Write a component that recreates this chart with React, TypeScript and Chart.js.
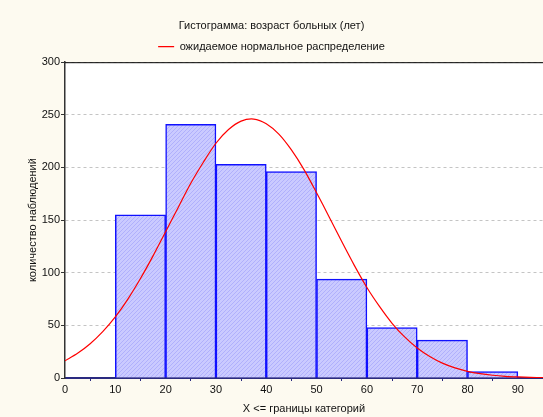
import React, { useEffect, useRef } from "react";
import { Chart, registerables } from "chart.js";

Chart.register(...registerables);

const titleText = "Гистограмма: возраст больных (лет)";
const legendText = "ожидаемое нормальное распределение";
const xAxisTitle = "X <= границы категорий";
const yAxisTitle = "количество наблюдений";

// histogram bins (lower bounds of categories) and counts
const binStarts = [10, 20, 30, 40, 50, 60, 70, 80];
const binWidth = 10;
const binCounts = [155, 241, 203, 196, 94, 48, 36, 6];

// expected normal curve
const curveX = [0, 2.5, 5, 7.5, 10, 12.5, 15, 17.5, 20, 22.5, 25, 27.5, 30, 32.5, 35, 37.5, 40, 42.5, 45, 47.5, 50, 52.5, 55, 57.5, 60, 62.5, 65, 67.5, 70, 72.5, 75, 77.5, 80, 82.5, 85, 87.5, 90, 92.5, 95];
const curveY = [16.3, 23.4, 32.5, 44, 58, 75, 94.5, 116, 139, 162, 185, 205, 223, 236, 244, 246, 241.6, 231.7, 216.7, 198, 176, 153, 129.6, 107, 86, 68, 52, 39, 28.5, 20.4, 14.1, 9.6, 6.3, 4.1, 2.6, 1.6, 1.0, 0.6, 0.3];

const xTicksMin = 0;
const xTicksMax = 95;
const xStep = 10;
const yMin = 0;
const yMax = 300;
const yStep = 50;

function makeHatch(): CanvasPattern | string {
  const c = document.createElement("canvas");
  c.width = 4;
  c.height = 4;
  const g = c.getContext("2d");
  if (!g) return "#C4C4FF";
  g.fillStyle = "#CACAFF";
  g.fillRect(0, 0, 4, 4);
  g.strokeStyle = "#B0B0FC";
  g.lineWidth = 1;
  g.beginPath();
  g.moveTo(-1, 5);
  g.lineTo(5, -1);
  g.stroke();
  const p = g.createPattern(c, "repeat");
  return p || "#C4C4FF";
}

export default function App() {
  const ref = useRef<HTMLCanvasElement | null>(null);

  useEffect(() => {
    if (!ref.current) return;
    Chart.defaults.font.family = "'Liberation Sans', Arial, sans-serif";
    Chart.defaults.font.size = 11;
    Chart.defaults.color = "#111";

    const bgPlugin = {
      id: "bgPlugin",
      beforeDraw(chart: any) {
        const { ctx, chartArea, width, height } = chart;
        ctx.save();
        ctx.fillStyle = "#FDFAF0";
        ctx.fillRect(0, 0, width, height);
        ctx.fillStyle = "#FFFFFF";
        ctx.fillRect(chartArea.left, chartArea.top, chartArea.right - chartArea.left, chartArea.bottom - chartArea.top);
        ctx.restore();
      },
      afterDraw(chart: any) {
        const { ctx, chartArea } = chart;
        ctx.save();
        ctx.strokeStyle = "#000";
        ctx.lineWidth = 1;
        ctx.beginPath();
        ctx.moveTo(chartArea.left, chartArea.top + 0.5);
        ctx.lineTo(chartArea.right, chartArea.top + 0.5);
        ctx.stroke();
        ctx.restore();
      },
    };

    const chart = new Chart(ref.current, {
      type: "bar",
      data: {
        datasets: [
          {
            type: "line",
            label: legendText,
            data: curveX.map((x, i) => ({ x, y: curveY[i] })),
            borderColor: "#FF0000",
            backgroundColor: "#FF0000",
            borderWidth: 1.2,
            pointRadius: 0,
            tension: 0.3,
            fill: false,
            order: 0,
          } as any,
          {
            type: "bar",
            label: "bars",
            data: binStarts.map((s, i) => ({ x: s + binWidth / 2, y: binCounts[i] })),
            backgroundColor: makeHatch() as any,
            borderColor: "#1010FF",
            borderWidth: 1.5,
            borderSkipped: "bottom",
            barPercentage: 1,
            categoryPercentage: 1,
            order: 1,
          } as any,
        ],
      },
      options: {
        responsive: false,
        animation: false,
        layout: { padding: 0 },
        plugins: {
          tooltip: { enabled: false },
          title: {
            display: true,
            text: titleText,
            font: { size: 11, weight: "normal" },
            color: "#111",
            padding: { top: 19, bottom: 1 },
          },
          legend: {
            display: true,
            labels: {
              filter: (item: any) => item.text === legendText,
              usePointStyle: true,
              pointStyle: "line",
              pointStyleWidth: 16,
              boxHeight: 11,
              padding: 8,
              color: "#111",
              font: { size: 11 },
            },
          },
        },
        scales: {
          x: {
            type: "linear",
            min: xTicksMin,
            max: xTicksMax,
            offset: false,
            ticks: { stepSize: xStep, includeBounds: false, padding: 2, color: "#111", maxRotation: 0 },
            grid: { drawOnChartArea: false, drawTicks: true, tickLength: 3, tickColor: "#2a2a80" },
            border: { color: "#2a2a80", width: 2 },
            title: { display: true, text: xAxisTitle, color: "#111", font: { size: 11 }, padding: { top: 0, bottom: 1 } },
            afterFit: (scale: any) => {
              scale.height = 39;
            },
          },
          y: {
            type: "linear",
            min: yMin,
            max: yMax,
            ticks: { stepSize: yStep, padding: 1, color: "#111" },
            grid: { color: "#c4c4c4", lineWidth: 1, tickLength: 4, tickColor: "#333", drawTicks: true },
            border: { color: "#333", width: 1.5, dash: [3, 3] },
            title: { display: true, text: yAxisTitle, color: "#111", font: { size: 11 }, padding: { top: 26, bottom: 0 } },
            afterFit: (scale: any) => {
              scale.width = 65;
            },
          },
        },
      } as any,
      plugins: [bgPlugin],
    });
    return () => chart.destroy();
  }, []);

  return (
    <div style={{ position: "absolute", left: 0, top: 0, width: 543, height: 417 }}>
      <canvas ref={ref} width={543} height={417} style={{ display: "block" }} />
    </div>
  );
}
